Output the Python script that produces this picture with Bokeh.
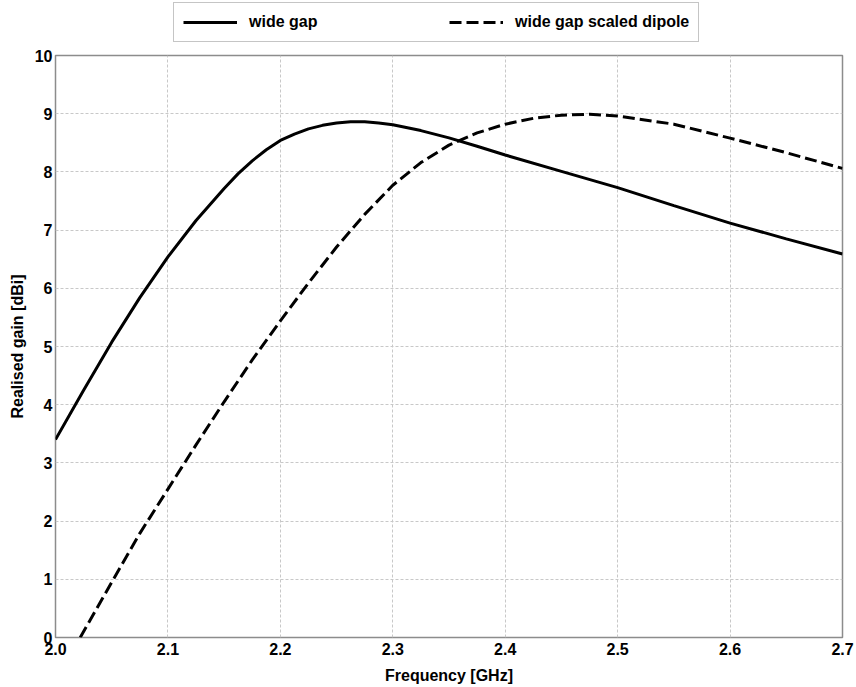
from bokeh.plotting import figure
from bokeh.layouts import column
from bokeh.models import Legend, LegendItem, FixedTicker, Range1d
from bokeh.embed import file_html
from bokeh.resources import INLINE

# ---- data ----
freq_wide = [2.000, 2.025, 2.050, 2.075, 2.100, 2.125, 2.150, 2.1625, 2.175, 2.1875,
             2.200, 2.2125, 2.225, 2.2375, 2.250, 2.2625, 2.275, 2.2875, 2.300, 2.325,
             2.350, 2.375, 2.400, 2.450, 2.500, 2.550, 2.600, 2.650, 2.700]
gain_wide = [3.40, 4.25, 5.075, 5.84, 6.54, 7.165, 7.715, 7.97, 8.19, 8.38,
             8.54, 8.65, 8.74, 8.80, 8.84, 8.86, 8.86, 8.84, 8.81, 8.71,
             8.585, 8.44, 8.29, 8.01, 7.73, 7.42, 7.12, 6.85, 6.59]

freq_scaled = [2.022, 2.050, 2.075, 2.100, 2.125, 2.150, 2.175, 2.200, 2.225, 2.250,
               2.275, 2.300, 2.325, 2.350, 2.375, 2.400, 2.425, 2.450, 2.475, 2.500,
               2.550, 2.600, 2.650, 2.700]
gain_scaled = [0.00, 0.95, 1.79, 2.55, 3.31, 4.05, 4.77, 5.44, 6.09, 6.71,
               7.27, 7.77, 8.16, 8.46, 8.67, 8.82, 8.92, 8.975, 8.99, 8.96,
               8.82, 8.58, 8.33, 8.06]

x_ticks = [2.0, 2.1, 2.2, 2.3, 2.4, 2.5, 2.6, 2.7]
x_tick_labels = ["2.0", "2.1", "2.2", "2.3", "2.4", "2.5", "2.6", "2.7"]
y_ticks = [0, 1, 2, 3, 4, 5, 6, 7, 8, 9, 10]
series_names = ["wide gap", "wide gap scaled dipole"]

FONT = "Liberation Sans"
SOLID = dict(line_color="black", line_width=3)
DASHED = dict(line_color="black", line_width=3, line_dash="12 5")

# ---- main chart ----
p = figure(width=856, height=639, output_backend="svg", toolbar_location=None,
           x_range=Range1d(2.0, 2.7), y_range=Range1d(0, 10),
           min_border_left=55, min_border_right=14, min_border_top=8,
           min_border_bottom=49)

p.line(freq_wide, gain_wide, **SOLID)
p.line(freq_scaled, gain_scaled, **DASHED)

p.xaxis.ticker = FixedTicker(ticks=x_ticks)
p.xaxis.major_label_overrides = {t: l for t, l in zip(x_ticks, x_tick_labels)}
p.yaxis.ticker = FixedTicker(ticks=y_ticks)
for ax in (p.xaxis, p.yaxis):
    ax.axis_line_color = None
    ax.major_tick_out = 0
    ax.major_tick_in = 0
    ax.minor_tick_line_color = None
    ax.major_label_text_font = FONT
    ax.major_label_text_font_style = "bold"
    ax.major_label_text_font_size = "16px"
    ax.major_label_text_color = "black"
    ax.axis_label_text_font = FONT
    ax.axis_label_text_font_style = "bold"
    ax.axis_label_text_font_size = "16px"
    ax.axis_label_text_color = "black"
p.xaxis.axis_label = "Frequency [GHz]"
p.yaxis.axis_label = "Realised gain [dBi]"
p.xaxis.major_label_standoff = 5
p.xaxis.axis_label_standoff = 9
p.yaxis.major_label_standoff = 3
p.yaxis.axis_label_standoff = 6

for g in (p.xgrid, p.ygrid):
    g.grid_line_color = "#c8c8c8"
    g.grid_line_dash = "3 2"
    g.grid_line_width = 1

p.outline_line_color = "#8c8c8c"
p.outline_line_width = 1.5
p.background_fill_color = "white"
p.border_fill_color = "white"

# ---- legend strip above the chart (its lines fall outside this strip's ranges) ----
leg = figure(width=856, height=47, output_backend="svg", toolbar_location=None,
             x_range=Range1d(0, 1), y_range=Range1d(0, 1),
             x_axis_location=None, y_axis_location=None, min_border=0)
leg.xgrid.visible = False
leg.ygrid.visible = False
leg.outline_line_color = None
leg.background_fill_color = "white"
leg.border_fill_color = "white"
l1 = leg.line(freq_wide, gain_wide, **SOLID)
l2 = leg.line(freq_scaled, gain_scaled, **DASHED)

legend = Legend(items=[LegendItem(label=series_names[0], renderers=[l1]),
                       LegendItem(label=series_names[1], renderers=[l2])],
                orientation="horizontal", location=(118, 5),
                padding=9, margin=0, spacing=42,
                glyph_width=54, glyph_height=20, label_standoff=12,
                label_width=158, label_height=20,
                label_text_font=FONT, label_text_font_style="bold",
                label_text_font_size="16px", label_text_color="black",
                border_line_color="#8c8c8c", border_line_width=1.5,
                background_fill_color="white", background_fill_alpha=1.0)
leg.add_layout(legend, "center")

layout = column(leg, p, spacing=0)
open("out.html", "w").write(file_html(layout, INLINE))
